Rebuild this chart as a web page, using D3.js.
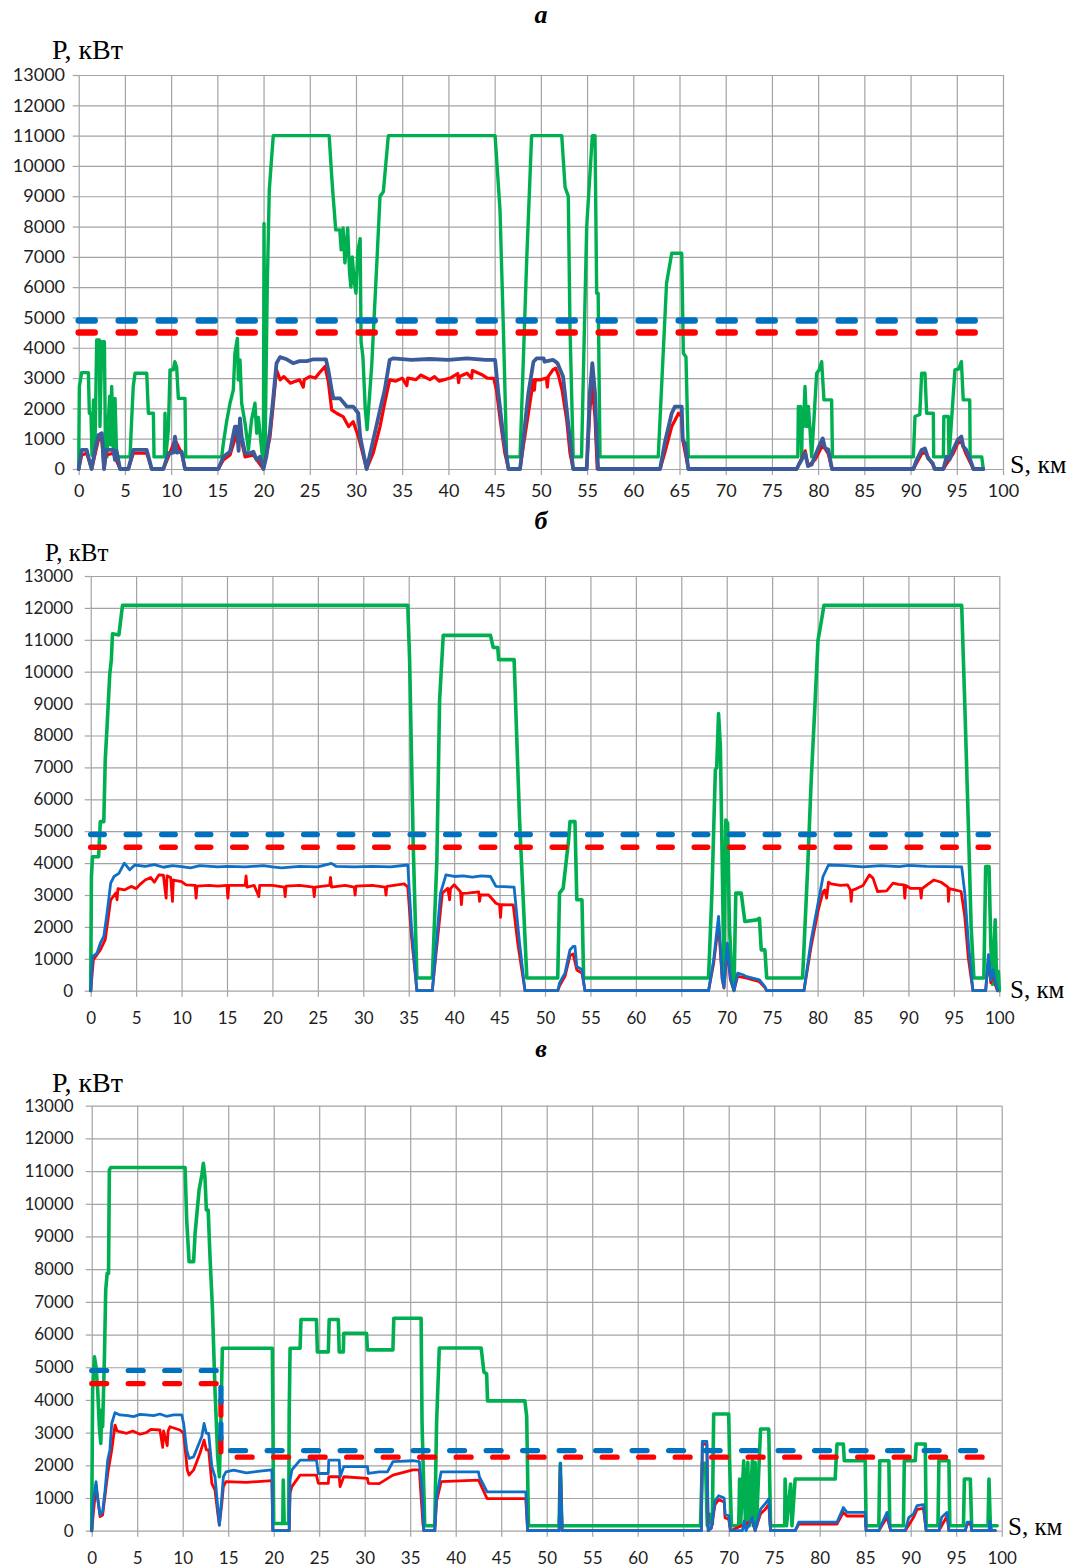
<!DOCTYPE html>
<html>
<head>
<meta charset="utf-8">
<script src="https://cdn.jsdelivr.net/npm/d3@7"></script>
<style>
  body { margin: 0; background: #fff; }
  svg { display: block; }
</style>
</head>
<body>
<svg id="chart" width="1078" height="1568"></svg>
<script>
// ---- axis ticks ----
const yTicks = d3.range(0, 13001, 1000);
const xTicks = d3.range(0, 101, 5);

// ---- panel а : power along the route, [S km, P kW] ----
const greenA = [[0,0],[0.07,2720],[0.32,3180],[1.05,3180],[1.15,1840],[1.33,1840],[1.44,450],[1.6,2280],[1.75,500],[1.95,4260],[2.24,4260],[2.3,1400],[2.5,4200],[2.78,4200],[2.9,400],[3.05,400],[3.2,1600],[3.35,2400],[3.45,800],[3.57,2720],[3.75,600],[3.93,2330],[4.1,500],[4.3,400],[5.55,400],[5.73,1620],[5.9,2720],[6.1,3160],[7.36,3160],[7.54,1840],[8.08,1840],[8.15,400],[9.27,400],[9.34,1840],[9.42,400],[9.7,1290],[9.88,3270],[10.24,3270],[10.4,3540],[10.6,3350],[10.78,2330],[11.5,2330],[11.58,400],[15.47,400],[15.65,850],[16.0,1560],[16.37,2170],[16.73,2610],[16.9,3820],[17.17,4310],[17.27,2940],[17.45,3600],[17.63,2170],[18.0,1510],[18.36,630],[18.7,1620],[19.07,2170],[19.26,1180],[19.44,1700],[19.8,630],[19.98,80],[20.05,8100],[20.15,300],[20.4,6000],[20.62,9210],[21.05,11000],[27.1,11000],[27.35,9760],[27.5,9100],[27.7,8330],[27.8,7890],[28.25,7890],[28.4,7230],[28.6,7950],[28.8,6800],[29.1,7950],[29.3,6500],[29.45,6000],[29.6,7000],[29.8,6200],[30.0,5800],[30.2,7200],[30.45,7600],[30.55,4200],[30.75,3700],[31.0,2000],[31.2,1300],[31.7,3400],[32.24,6700],[32.6,9000],[32.96,9150],[33.5,11000],[45.05,11000],[45.58,8550],[45.94,4700],[46.3,400],[47.75,400],[48.47,6900],[49.0,11000],[52.26,11000],[52.62,9300],[52.97,9000],[53.15,4700],[53.5,400],[54.4,400],[54.96,8000],[55.57,11000],[55.86,11000],[56.04,5800],[56.2,5800],[56.4,400],[62.7,400],[63.6,6130],[64.16,7120],[65.24,7120],[65.42,3820],[65.7,3700],[65.96,400],[77.8,400],[77.86,2060],[78.0,1400],[78.1,2060],[78.22,400],[78.3,1840],[78.4,1400],[78.58,2720],[78.76,1400],[78.95,2060],[79.12,1300],[79.3,400],[79.5,1400],[79.84,3160],[80.1,3270],[80.38,3540],[80.63,2280],[81.46,2280],[81.55,400],[90.3,400],[90.48,1730],[91.0,1800],[91.2,3160],[91.56,3160],[91.74,1840],[92.46,1840],[92.5,400],[93.55,400],[93.6,1730],[94.09,1730],[94.15,400],[94.3,1000],[94.8,3270],[95.2,3300],[95.5,3540],[95.7,2280],[96.4,2280],[96.45,400],[97.7,400],[97.87,0]];
const blueA = [[0,0],[0.32,630],[0.87,630],[1.05,400],[1.4,0],[1.77,630],[2.13,1120],[2.5,1180],[2.74,0],[2.96,630],[3.75,630],[3.93,300],[4.1,600],[4.47,0],[5.37,0],[5.91,630],[7.36,630],[7.9,0],[9.16,0],[9.7,520],[10.24,540],[10.42,1070],[10.6,540],[11.14,570],[11.5,0],[15.1,0],[15.65,400],[16.37,570],[16.9,1400],[17.1,1400],[17.3,600],[17.45,1670],[17.63,1070],[18.0,520],[18.5,520],[18.9,570],[19.26,300],[19.6,400],[19.98,0],[20.3,400],[20.7,1290],[21.06,2390],[21.4,3490],[21.78,3690],[22.5,3620],[23.2,3490],[23.9,3560],[24.67,3560],[25.4,3620],[26.1,3620],[26.75,3620],[27.0,3270],[27.37,2610],[27.55,2330],[28.27,2330],[29.0,2060],[29.7,2060],[30.25,1840],[30.45,1070],[31.15,0],[31.87,960],[32.6,1950],[33.1,2600],[33.65,3600],[34.0,3650],[36,3600],[38,3630],[40,3600],[42,3650],[44,3600],[45.05,3600],[45.4,2500],[45.94,1070],[46.3,400],[46.5,0],[47.75,0],[48.1,960],[48.65,2500],[49.2,3540],[49.55,3650],[50.3,3650],[50.4,3540],[51.3,3600],[51.6,3540],[51.8,3490],[52.4,3050],[52.8,1950],[53.15,960],[53.5,0],[54.96,0],[55.3,2500],[55.57,3490],[55.86,2500],[56.04,960],[56.2,0],[62.9,0],[63.4,850],[64.16,1840],[64.5,2060],[65.24,2060],[65.35,960],[65.6,850],[65.96,0],[77.68,0],[78.0,190],[78.6,520],[78.9,100],[79.3,150],[79.65,410],[80.0,680],[80.5,1010],[80.75,680],[81.1,640],[81.5,0],[90.3,0],[90.66,300],[91.2,630],[91.55,680],[91.9,350],[92.4,190],[92.6,0],[93.55,0],[93.9,410],[94.2,300],[94.6,630],[95.1,960],[95.5,1070],[95.7,740],[96.0,640],[96.4,350],[96.8,0],[97.87,0]];
const redA = [[0,0],[0.32,460],[0.87,520],[1.4,0],[2.13,960],[2.5,1020],[2.74,0],[2.96,460],[3.75,520],[4.47,0],[5.37,0],[5.91,520],[7.36,520],[7.9,0],[9.16,0],[9.7,400],[10.42,960],[11.14,520],[11.5,0],[15.1,0],[15.65,300],[16.37,460],[17.1,1180],[17.45,1400],[17.63,900],[18.0,400],[18.9,460],[19.98,0],[20.7,1070],[21.06,2170],[21.4,3270],[21.8,2940],[22.2,3050],[22.9,2830],[23.5,2900],[23.9,2940],[24.3,2700],[24.4,2950],[25.0,3050],[25.6,3000],[26.0,3160],[26.65,3380],[27.0,2900],[27.37,1950],[27.9,1840],[28.6,1730],[29.2,1400],[29.7,1560],[30.25,1070],[30.45,850],[31.15,0],[31.87,530],[32.6,1400],[33.1,2170],[33.65,2940],[34.3,2900],[35,3000],[35.5,2750],[35.6,3000],[36.5,2950],[37,3100],[38,2950],[38.5,3050],[39,2900],[40.2,3000],[41,3150],[41.1,2850],[41.2,3050],[42,3160],[42.5,3000],[42.6,3250],[43.7,3100],[44.2,3000],[44.9,2990],[45.2,2600],[45.6,1620],[46.1,530],[46.5,0],[47.75,0],[48.1,740],[48.65,1840],[49.2,2940],[49.3,2600],[49.4,2950],[49.9,2940],[50.6,3000],[50.7,2700],[50.8,3050],[51.3,3270],[51.6,3330],[51.9,3100],[52.3,2600],[52.8,1620],[53.15,530],[53.5,0],[54.96,0],[55.3,1950],[55.57,2720],[55.86,1700],[56.1,0],[62.9,0],[63.4,530],[64.16,1400],[64.9,1840],[65.24,1730],[65.35,960],[65.96,0],[77.68,0],[78.6,600],[78.9,100],[79.65,300],[80.5,800],[81.1,500],[81.5,0],[90.3,0],[91.2,500],[91.55,550],[92.4,150],[92.6,0],[93.55,0],[94.6,500],[95.1,850],[95.5,900],[96,500],[96.8,0],[97.87,0]];
const limitBlueA = [[0,4900],[97.3,4900]];
const limitRedA = [[0,4500],[97.3,4500]];

// ---- panel б ----
const greenB = [[0,0],[0.08,3580],[0.2,4200],[0.87,4200],[1.06,5300],[1.44,5300],[1.6,7230],[1.8,8270],[2.1,9940],[2.27,10360],[2.4,11190],[3.1,11150],[3.3,11610],[3.5,12080],[34.9,12080],[35.1,10360],[35.5,4520],[35.9,400],[37.6,400],[38.1,4100],[38.4,9110],[38.8,11140],[44.0,11140],[44.3,10760],[44.8,10760],[44.9,10380],[46.6,10380],[47.2,5350],[48.0,400],[51.4,400],[51.6,3060],[52.0,3210],[52.6,4730],[52.75,5300],[53.3,5300],[53.5,2850],[54.07,2850],[54.25,400],[68.0,400],[68.37,3060],[68.75,6920],[68.9,7000],[69.1,8690],[69.3,7650],[69.5,4100],[69.7,350],[69.9,5350],[70.1,5250],[70.3,2010],[70.55,500],[70.8,30],[71.0,3060],[71.6,3060],[71.8,2600],[72.0,2170],[73.3,2220],[73.6,2270],[73.8,1280],[74.2,1280],[74.4,400],[78.35,400],[78.9,3790],[79.3,6600],[79.7,8900],[80.05,10990],[80.4,11560],[80.7,12080],[95.86,12080],[96.2,9000],[96.6,5140],[96.9,2010],[97.2,400],[98.3,400],[98.5,3890],[98.87,3890],[99.06,1490],[99.25,200],[99.55,2220],[99.7,200],[99.9,600],[100,0]];
const blueB = [[0,0],[0.2,1070],[0.7,1180],[1.06,1490],[1.44,1700],[1.8,2430],[2.2,3370],[2.57,3580],[3.1,3680],[3.7,4000],[4.3,3790],[4.85,3940],[6,3900],[7,3950],[8,3870],[9,3920],[10,3890],[11,3850],[12,3920],[14,3880],[15,3900],[17,3880],[19,3920],[20,3880],[21,3850],[23,3900],[25,3880],[26.5,3990],[27,3900],[29,3880],[31,3900],[33,3880],[34.9,3940],[35.3,2010],[35.9,0],[37.6,0],[37.9,970],[38.5,3060],[39.1,3630],[40,3580],[41,3600],[42,3560],[43,3600],[44,3580],[44.6,3270],[46.6,3250],[47.2,1490],[47.8,0],[51.4,0],[51.6,240],[52.2,550],[52.75,1280],[53.1,1390],[53.3,1390],[53.5,760],[54.07,660],[54.4,0],[68.0,0],[68.56,970],[69.1,2330],[69.5,400],[69.7,100],[70.07,1490],[70.4,400],[70.8,0],[71.2,550],[71.8,500],[72.1,450],[73.6,340],[74.2,130],[74.4,0],[78.5,0],[79.3,1600],[80.05,2740],[80.6,3580],[81.2,3940],[83,3920],[85,3880],[87,3920],[89,3890],[90,3930],[92,3900],[94,3890],[95.86,3880],[96.2,3060],[96.6,1490],[97.1,0],[98.5,0],[98.8,1130],[99.06,330],[99.3,650],[99.6,230],[99.8,0]];
const redB = [[0,0],[0.3,970],[1.06,1280],[1.6,1600],[2.2,2850],[2.76,3060],[2.9,2850],[3.0,3200],[3.7,3160],[4.46,3270],[5,3200],[5.5,3350],[6,3470],[6.6,3550],[7.0,3400],[7.5,3630],[8.0,3620],[8.3,2900],[8.4,3600],[8.8,3550],[9.0,2800],[9.1,3470],[10.0,3420],[10.5,3320],[11.5,3300],[11.6,2900],[11.7,3280],[13,3300],[14,3280],[15,3300],[15.1,2900],[15.2,3300],[17,3300],[17.1,3600],[17.2,3250],[18,3300],[18.5,2950],[18.6,3300],[20,3300],[21.3,3250],[21.4,2950],[21.5,3280],[23,3300],[24.5,3250],[24.6,2950],[24.7,3250],[26.3,3300],[26.4,3550],[26.5,3250],[28,3300],[29,3250],[29.1,3000],[29.2,3280],[31,3300],[32.4,3250],[32.5,3000],[32.6,3270],[34.5,3350],[34.9,3250],[35.3,1700],[35.9,0],[37.6,0],[37.9,860],[38.7,3060],[39.3,3210],[39.5,2850],[39.6,3200],[40,3320],[40.7,3100],[40.8,2700],[40.9,3050],[41.5,3060],[42.7,3100],[42.8,2800],[42.9,3000],[43.8,3000],[44.6,2740],[45,2700],[45.1,2300],[45.2,2700],[46.5,2690],[47,1490],[47.8,0],[51.4,0],[51.6,150],[52.2,450],[52.75,1100],[53.1,1150],[53.5,650],[54.07,550],[54.4,0],[68.0,0],[68.56,850],[69.1,2100],[69.5,350],[69.7,80],[70.07,1300],[70.4,350],[70.8,0],[71.2,450],[72.1,400],[73.6,280],[74.2,100],[74.4,0],[78.5,0],[79.3,1400],[80.05,2500],[80.6,3100],[80.8,3160],[81.0,2900],[81.2,3400],[81.5,3350],[82.5,3300],[83.3,3320],[83.6,3160],[83.7,2800],[83.8,3150],[84.3,3200],[85.0,3300],[85.7,3630],[86.1,3530],[86.6,3110],[87.6,3130],[88.3,3370],[88.9,3330],[89.5,3320],[89.6,2900],[89.7,3300],[90.2,3210],[91.3,3210],[91.4,2900],[91.5,3200],[92.2,3350],[92.8,3470],[93.6,3400],[94.35,3250],[94.4,2800],[94.5,3200],[95.1,3160],[95.8,3110],[96.2,2330],[96.6,1000],[97.1,0],[98.5,0],[98.8,1000],[99.06,250],[99.3,550],[99.6,150],[99.8,0]];
const limitBlueB = [[0,4900],[98.8,4900]];
const limitRedB = [[0,4500],[98.8,4500]];

// ---- panel в ----
const greenC = [[0,0],[0.1,4300],[0.3,5320],[0.48,5000],[0.66,4300],[0.84,3180],[1.0,2670],[1.1,3690],[1.2,3180],[1.4,5320],[1.54,7360],[1.7,7870],[1.85,7870],[1.94,11030],[2.1,11110],[10.26,11110],[10.44,9500],[10.7,8230],[11.2,8230],[11.36,9090],[11.8,10420],[12.1,10880],[12.27,11240],[12.45,10800],[12.6,9810],[12.8,9810],[13.0,8380],[13.26,6850],[13.55,4300],[13.85,2260],[14.03,1650],[14.2,3390],[14.36,5580],[19.85,5580],[20.0,220],[21.0,220],[21.05,1550],[21.15,220],[21.65,220],[21.7,3540],[21.8,5580],[22.9,5580],[23.0,6460],[24.7,6460],[24.8,5470],[26.0,5470],[26.1,6460],[27.1,6460],[27.2,5470],[27.65,5470],[27.7,6040],[30.2,6040],[30.3,5530],[33.1,5530],[33.2,6500],[36.2,6500],[36.3,3300],[36.6,150],[37.7,150],[37.9,3300],[38.2,5590],[42.8,5590],[43.1,4850],[43.4,4800],[43.5,3970],[47.6,3970],[47.8,3500],[48.0,150],[51.36,150],[51.5,2060],[51.65,150],[66.9,150],[67.1,2060],[67.45,2060],[67.65,150],[67.9,500],[68.2,200],[68.35,3570],[70.0,3570],[70.1,2140],[70.3,150],[71.1,150],[71.2,1580],[71.3,150],[71.65,2140],[71.85,150],[72.1,2090],[72.25,150],[72.6,2140],[72.7,150],[72.9,2090],[73.05,150],[73.5,3110],[74.4,3110],[74.6,150],[76.15,150],[76.2,1580],[76.35,150],[76.8,1430],[76.95,150],[77.3,1580],[81.7,1580],[81.8,2140],[81.9,2650],[82.6,2650],[82.7,2140],[85.0,2140],[85.1,150],[86.5,150],[86.6,2140],[87.6,2140],[87.7,150],[89.2,150],[89.3,2140],[90.5,2140],[90.6,2650],[91.6,2650],[91.7,150],[93.0,150],[93.1,2140],[94.2,2140],[94.3,150],[95.8,150],[95.9,1580],[96.55,1580],[96.7,150],[98.5,150],[98.6,1580],[98.75,150],[99.5,150]];
const blueC = [[0,0],[0.18,940],[0.48,1500],[0.62,1040],[0.92,480],[1.2,580],[1.47,1240],[1.76,2160],[2.0,2470],[2.2,3280],[2.56,3610],[3.1,3540],[4.0,3520],[4.6,3490],[5.3,3560],[6,3540],[6.8,3520],[7.5,3570],[8.2,3500],[9,3540],[9.9,3540],[10.1,3280],[10.44,2470],[10.7,2210],[11.2,2260],[11.5,2470],[12.1,2880],[12.35,3280],[12.6,2980],[12.85,2980],[13.2,1960],[13.55,1650],[13.85,730],[14.03,170],[14.3,1040],[14.47,1650],[14.76,1800],[15.6,1850],[17,1770],[18.5,1820],[19.8,1860],[19.9,0],[21.7,0],[21.8,1550],[22.0,1860],[22.9,2160],[24.7,2160],[24.9,1750],[26.0,1750],[26.05,2160],[27.2,2160],[27.3,1650],[27.7,1960],[30.3,1960],[30.4,1750],[31.6,1800],[32.5,1800],[33.1,2110],[35.3,2140],[36.0,2110],[36.3,1250],[36.5,0],[37.7,0],[37.9,1030],[38.4,1800],[42.5,1800],[42.6,1650],[43.45,1190],[47.7,1190],[47.9,0],[51.36,0],[51.5,2060],[51.7,0],[67.0,0],[67.1,2730],[67.6,2730],[67.75,0],[68.1,100],[68.5,920],[68.9,1070],[69.5,1000],[69.6,510],[70.0,460],[70.2,0],[71.5,0],[71.7,300],[71.9,0],[72.6,410],[72.9,0],[73.5,660],[74.0,820],[74.4,970],[74.6,0],[77.3,0],[77.7,260],[81.9,260],[82.6,710],[83.0,560],[85.0,560],[85.1,0],[86.5,0],[86.8,200],[87.4,560],[87.8,0],[89.4,0],[89.8,410],[90.3,510],[90.7,770],[91.4,800],[91.7,0],[93.1,0],[93.4,410],[94.0,560],[94.2,0],[96.0,0],[96.2,260],[96.6,260],[96.7,0],[98.6,0],[98.7,300],[98.9,0],[99.3,0]];
const redC = [[0,0],[0.48,1400],[0.92,430],[1.2,480],[1.76,1750],[2.2,2470],[2.56,3230],[2.8,3050],[3.85,2980],[4.5,3050],[5.3,2950],[6,3000],[6.5,3100],[7.5,3080],[7.8,2550],[7.9,3050],[8.3,2600],[8.4,3050],[8.6,3180],[9.7,3080],[10.1,2980],[10.5,1860],[10.7,1700],[11.2,1860],[11.9,2370],[12.35,2770],[12.6,2470],[12.85,2470],[13.2,1450],[13.55,1240],[13.85,530],[14.03,170],[14.3,840],[14.47,1350],[14.76,1500],[17,1480],[19.8,1530],[19.9,0],[21.7,0],[21.8,1150],[22.0,1350],[22.9,1700],[24.7,1700],[24.9,1450],[26.0,1450],[26.05,1650],[27.2,1650],[27.3,1350],[27.7,1650],[30.3,1600],[30.4,1450],[31.6,1440],[33.1,1700],[35.3,1860],[36.0,1860],[36.4,200],[36.5,0],[37.7,0],[37.9,900],[38.4,1500],[42.5,1550],[43.45,980],[47.7,980],[47.9,0],[51.36,0],[51.5,2000],[51.7,0],[67.0,0],[67.1,2650],[67.6,2650],[67.75,0],[68.1,80],[68.5,800],[68.9,950],[69.5,880],[69.6,400],[70.0,350],[70.2,0],[72.6,300],[72.9,0],[73.5,520],[74.0,650],[74.4,800],[74.6,0],[77.3,0],[77.7,200],[81.9,200],[82.6,560],[83.0,450],[85.0,450],[85.1,0],[86.5,0],[87.4,420],[87.8,0],[89.4,0],[90.3,400],[90.7,650],[91.4,680],[91.7,0],[93.1,0],[94.0,450],[94.2,0],[96.0,0],[96.2,200],[96.6,200],[96.7,0],[99.3,0]];
const limitBlueC = [[0,4900],[14.2,4900],[14.2,2450],[99.3,2450]];
const limitRedC = [[0,4500],[14.2,4500],[14.2,2250],[99.6,2250]];

// ---- layout and styling of the three panels ----
const panels = [
  { title: 'а', titleY: 23, green: greenA, red: redA, blue: blueA, limBlue: limitBlueA, limRed: limitRedA,
    l: 78.7, r: 1003, t: 75, b: 469, blueColor: '#3b5b9a', lw: 3.2, greenW: 3.4, blueW: 3.8,
    tickFont: 18, yPad: 7.7, xPad: 9.2, pLabel: { x: 52, y: 59, size: 28 }, sLabel: { x: 1010, y: 473, size: 26 },
    dash: '16,24', dashW: 6.5 },
  { title: 'б', titleY: 529, green: greenB, red: redB, blue: blueB, limBlue: limitBlueB, limRed: limitRedB,
    l: 90.7, r: 999.3, t: 576, b: 990.7, blueColor: '#0f6fc6', lw: 2.8, greenW: 3.6, blueW: 2.8,
    tickFont: 17, yPad: 11.7, xPad: 15.2, pLabel: { x: 45, y: 561, size: 25 }, sLabel: { x: 1010, y: 998, size: 25 },
    dash: '13.5,22', dashW: 5.5 },
  { title: 'в', titleY: 1057, green: greenC, red: redC, blue: blueC, limBlue: limitBlueC, limRed: limitRedC,
    l: 91.7, r: 1001.7, t: 1105.7, b: 1530.7, blueColor: '#0f6fc6', lw: 2.8, greenW: 3.6, blueW: 2.8,
    tickFont: 17, yPad: 12, xPad: 15.2, pLabel: { x: 52, y: 1092, size: 28 }, sLabel: { x: 1008, y: 1535, size: 25 },
    dash: '15,21.5', dashW: 5.2 }
];

const svg = d3.select('#chart');
svg.append('rect').attr('width', 1078).attr('height', 1568).attr('fill', '#fff');

const GRID = '#a3a3a3';
const GREEN = '#00b050';
const RED = '#ff0000';
const DASH_BLUE = '#0070c0';
const TEXT = '#1e1e1e';
const SERIF = '"Liberation Serif", "Times New Roman", serif';
const SANS = 'Lato, "Open Sans", "Liberation Sans", sans-serif';

panels.forEach(p => {
  const g = svg.append('g');
  const x = d3.scaleLinear().domain([0, 100]).range([p.l, p.r]);
  const y = d3.scaleLinear().domain([0, 13000]).range([p.b, p.t]);
  const w = p.r - p.l, h = p.b - p.t;

  // gridlines
  g.append('g').attr('transform', `translate(${p.l},0)`)
    .call(d3.axisLeft(y).tickValues(yTicks).tickSize(-w).tickFormat(''))
    .call(s => s.select('.domain').remove())
    .call(s => s.selectAll('line').attr('stroke', GRID).attr('stroke-width', 1.2));
  g.append('g').attr('transform', `translate(0,${p.b})`)
    .call(d3.axisBottom(x).tickValues(xTicks).tickSize(-h).tickFormat(''))
    .call(s => s.select('.domain').remove())
    .call(s => s.selectAll('line').attr('stroke', GRID).attr('stroke-width', 1.2));

  // labelled axes with short outer ticks
  g.append('g').attr('transform', `translate(${p.l},0)`)
    .call(d3.axisLeft(y).tickValues(yTicks).tickSize(6).tickPadding(p.yPad).tickFormat(d3.format('d')))
    .call(s => s.select('.domain').remove())
    .call(s => s.selectAll('line').attr('stroke', GRID).attr('stroke-width', 1.2))
    .call(s => s.selectAll('text').attr('fill', TEXT).style('font-family', SANS).style('font-size', p.tickFont + 'px'));
  g.append('g').attr('transform', `translate(0,${p.b})`)
    .call(d3.axisBottom(x).tickValues(xTicks).tickSize(6).tickPadding(p.xPad).tickFormat(d3.format('d')))
    .call(s => s.select('.domain').remove())
    .call(s => s.selectAll('line').attr('stroke', GRID).attr('stroke-width', 1.2))
    .call(s => s.selectAll('text').attr('fill', TEXT).style('font-family', SANS).style('font-size', p.tickFont + 'px'));

  // series
  const line = d3.line().x(d => x(d[0])).y(d => y(d[1]));
  const draw = (data, color, width) => g.append('path').datum(data)
    .attr('d', line).attr('fill', 'none').attr('stroke', color)
    .attr('stroke-width', width).attr('stroke-linejoin', 'round').attr('stroke-linecap', 'round');
  draw(p.green, GREEN, p.greenW);
  draw(p.red, RED, p.lw);
  draw(p.blue, p.blueColor, p.blueW);

  // limit lines
  const drawDash = (data, color) => g.append('path').datum(data)
    .attr('d', line).attr('fill', 'none').attr('stroke', color)
    .attr('stroke-width', p.dashW).attr('stroke-dasharray', p.dash).attr('stroke-linecap', 'round');
  drawDash(p.limRed, RED);
  drawDash(p.limBlue, DASH_BLUE);

  // captions
  g.append('text').attr('x', 541).attr('y', p.titleY).attr('text-anchor', 'middle')
    .style('font-family', SERIF).style('font-size', '26px').style('font-weight', 'bold').style('font-style', 'italic')
    .attr('fill', '#000').text(p.title);
  g.append('text').attr('x', p.pLabel.x).attr('y', p.pLabel.y)
    .style('font-family', SERIF).style('font-size', p.pLabel.size + 'px').attr('fill', '#000').text('P, кВт');
  g.append('text').attr('x', p.sLabel.x).attr('y', p.sLabel.y)
    .style('font-family', SERIF).style('font-size', p.sLabel.size + 'px').attr('fill', '#000').text('S, км');
});
</script>
</body>
</html>
